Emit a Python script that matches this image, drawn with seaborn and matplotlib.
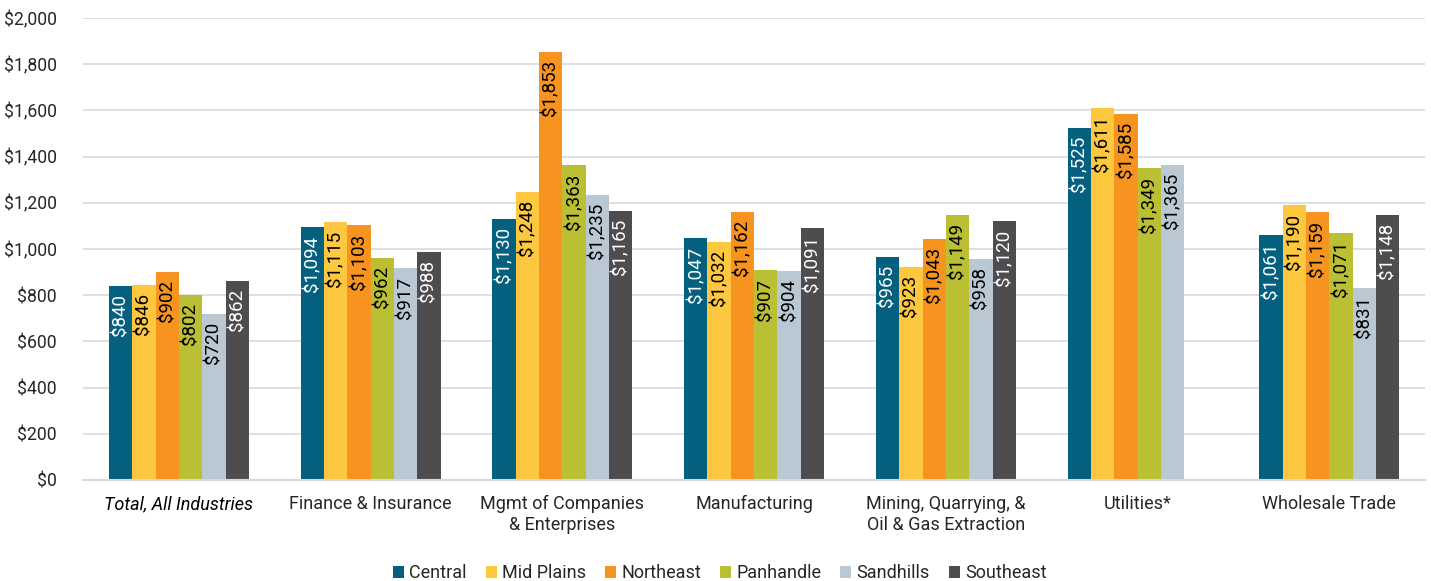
import pandas as pd
import numpy as np
import seaborn as sns
import matplotlib.pyplot as plt
from matplotlib.ticker import FuncFormatter

industries = ["Total, All Industries", "Finance & Insurance", "Mgmt of Companies\n& Enterprises",
              "Manufacturing", "Mining, Quarrying, &\nOil & Gas Extraction", "Utilities*", "Wholesale Trade"]
regions = ["Central", "Mid Plains", "Northeast", "Panhandle", "Sandhills", "Southeast"]

central = [840, 1094, 1130, 1047, 965, 1525, 1061]
mid_plains = [846, 1115, 1248, 1032, 923, 1611, 1190]
northeast = [902, 1103, 1853, 1162, 1043, 1585, 1159]
panhandle = [802, 962, 1363, 907, 1149, 1349, 1071]
sandhills = [720, 917, 1235, 904, 958, 1365, 831]
southeast = [862, 988, 1165, 1091, 1120, np.nan, 1148]

colors = ["#05607F", "#FDC840", "#F7941F", "#BBBF33", "#BAC8D3", "#4D4D4F"]
label_colors = ["white", "black", "black", "black", "black", "white"]

series = [central, mid_plains, northeast, panhandle, sandhills, southeast]
rows = []
for reg, vals in zip(regions, series):
    for ind, v in zip(industries, vals):
        rows.append({"industry": ind, "region": reg, "wage": v})
df = pd.DataFrame(rows)

sns.set_style("white")
plt.rcParams['font.family'] = ['Roboto', 'DejaVu Sans']

fig = plt.figure(figsize=(14.31, 5.81), dpi=100)
ax = fig.add_axes([0.058, 0.174, 0.938, 0.795])

sns.barplot(data=df, x="industry", y="wage", hue="region", order=industries,
            hue_order=regions, palette=colors, width=0.73, saturation=1,
            errorbar=None, linewidth=0, ax=ax, legend=True)

# data labels inside the bar tops
for cont, lc in zip(ax.containers, label_colors):
    for bar in cont:
        h = bar.get_height()
        if np.isnan(h) or h == 0:
            continue
        ax.annotate(f"${h:,.0f}", (bar.get_x() + bar.get_width() / 2, h),
                    xytext=(0, -6), textcoords="offset points",
                    rotation=90, ha="center", va="top", fontsize=13.5, color=lc)

ax.set_ylim(0, 2000)
ax.set_yticks(range(0, 2001, 200))
ax.yaxis.set_major_formatter(FuncFormatter(lambda v, p: f"${v:,.0f}"))
ax.set_xlim(-0.5, len(industries) - 0.5)
ax.grid(axis="y", color="#d9d9d9", linewidth=1.2)
ax.set_axisbelow(True)
for s in ["top", "right", "left"]:
    ax.spines[s].set_visible(False)
ax.spines["bottom"].set_color("#d9d9d9")
ax.spines["bottom"].set_linewidth(1.5)
ax.tick_params(axis="x", length=0, labelsize=13, colors="#262626", pad=11)
ax.tick_params(axis="y", length=0, labelsize=12.7, colors="#262626", pad=19)
ax.set_xlabel("")
ax.set_ylabel("")
for lab in ax.get_xticklabels():
    lab.set_verticalalignment("top")
    if lab.get_text().startswith("Total"):
        lab.set_fontstyle("italic")
        lab.set_color("black")

handles, labels = ax.get_legend_handles_labels()
ax.get_legend().remove()
fig.legend(handles, labels, loc="lower center", bbox_to_anchor=(0.503, -0.03), ncol=6,
           frameon=False, fontsize=13, handlelength=0.6, handleheight=0.6,
           handletextpad=0.3, columnspacing=1.05)

fig.savefig("out.png", dpi=100)
